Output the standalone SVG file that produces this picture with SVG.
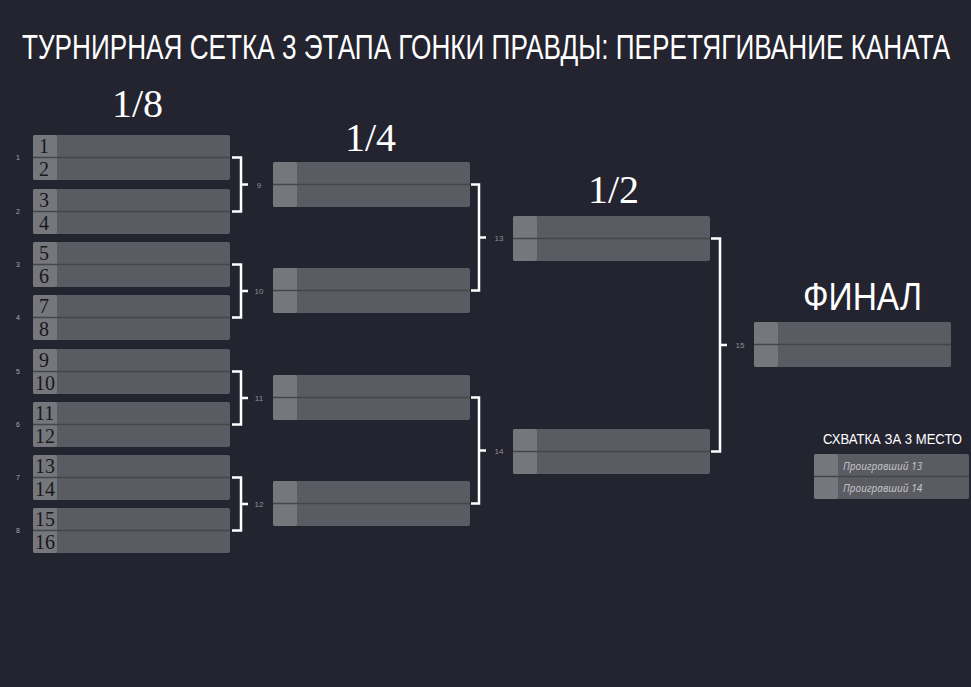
<svg xmlns="http://www.w3.org/2000/svg" width="971" height="687" viewBox="0 0 971 687">
<style>
.bg{fill:#23242f}
.box{fill:#5b5c63}
.cell{fill:#76777d}
.div{stroke:#45464d;stroke-width:1.5}
.seed{font-family:"Liberation Serif",serif;font-size:20px;fill:#17171b}
.mn{font-family:"Liberation Sans",sans-serif;font-size:7px;fill:#a9aab0;text-anchor:middle}
.bl{font-family:"Liberation Sans",sans-serif;font-size:8px;fill:#8e8f96;text-anchor:middle}
.rnd{font-family:"Liberation Serif",serif;font-size:40px;fill:#ffffff}
.title{font-family:"Liberation Sans",sans-serif;font-size:35px;fill:#ffffff}
.br{fill:none;stroke:#ffffff;stroke-width:2.5}
.lose{font-family:"Open Sans","Liberation Sans",sans-serif;font-style:italic;font-size:10px;fill:#c9c9ce}
</style>
<defs>
<g id="b197">
<rect class="box" x="0" y="0" width="197" height="45" rx="2"/>
<rect class="cell" x="0" y="0" width="24" height="45" rx="2"/>
<line class="div" x1="0" y1="22.5" x2="197" y2="22.5"/>
</g>
</defs>
<rect class="bg" x="0" y="0" width="971" height="687"/>
<text class="title" transform="translate(22,59) scale(0.7,1)" x="0" y="0" textLength="1326" lengthAdjust="spacingAndGlyphs">ТУРНИРНАЯ СЕТКА 3 ЭТАПА ГОНКИ ПРАВДЫ: ПЕРЕТЯГИВАНИЕ КАНАТА</text>
<text class="rnd" x="112" y="117">1/8</text>
<text class="rnd" x="345" y="151">1/4</text>
<text class="rnd" x="588" y="203">1/2</text>
<text x="803" y="310" font-family="Liberation Sans,sans-serif" font-size="38" fill="#ffffff" textLength="119" lengthAdjust="spacingAndGlyphs">ФИНАЛ</text>
<text x="823" y="444" font-family="Liberation Sans,sans-serif" font-size="14" fill="#ffffff" textLength="139" lengthAdjust="spacingAndGlyphs">СХВАТКА ЗА 3 МЕСТО</text>

<g id="r16-1"><use href="#b197" x="33" y="135"/><text class="seed" x="39" y="153">1</text><text class="seed" x="39" y="176">2</text><text class="mn" x="18" y="160">1</text></g>
<g id="r16-2"><use href="#b197" x="33" y="189"/><text class="seed" x="39" y="207">3</text><text class="seed" x="39" y="230">4</text><text class="mn" x="18" y="214">2</text></g>
<g id="r16-3"><use href="#b197" x="33" y="242"/><text class="seed" x="39" y="260">5</text><text class="seed" x="39" y="283">6</text><text class="mn" x="18" y="267">3</text></g>
<g id="r16-4"><use href="#b197" x="33" y="295"/><text class="seed" x="39" y="313">7</text><text class="seed" x="39" y="336">8</text><text class="mn" x="18" y="320">4</text></g>
<g id="r16-5"><use href="#b197" x="33" y="349"/><text class="seed" x="39" y="367">9</text><text class="seed" x="35" y="390">10</text><text class="mn" x="18" y="374">5</text></g>
<g id="r16-6"><use href="#b197" x="33" y="402"/><text class="seed" x="35" y="420">11</text><text class="seed" x="35" y="443">12</text><text class="mn" x="18" y="427">6</text></g>
<g id="r16-7"><use href="#b197" x="33" y="455"/><text class="seed" x="35" y="473">13</text><text class="seed" x="35" y="496">14</text><text class="mn" x="18" y="480">7</text></g>
<g id="r16-8"><use href="#b197" x="33" y="508"/><text class="seed" x="35" y="526">15</text><text class="seed" x="35" y="549">16</text><text class="mn" x="18" y="533">8</text></g>

<g id="qf-9"><use href="#b197" x="273" y="162"/></g>
<g id="qf-10"><use href="#b197" x="273" y="268"/></g>
<g id="qf-11"><use href="#b197" x="273" y="375"/></g>
<g id="qf-12"><use href="#b197" x="273" y="481"/></g>
<g id="sf-13"><use href="#b197" x="513" y="216"/></g>
<g id="sf-14"><use href="#b197" x="513" y="429"/></g>
<g id="final-15"><use href="#b197" x="754" y="322"/></g>
<g id="third">
<rect class="box" x="814" y="454" width="155" height="45" rx="2"/>
<rect class="cell" x="814" y="454" width="24" height="45" rx="2"/>
<line class="div" x1="814" y1="476.5" x2="969" y2="476.5"/>
<text class="lose" x="843" y="470">Проигравший 13</text>
<text class="lose" x="843" y="492">Проигравший 14</text>
</g>

<g id="connectors">
<path class="br" d="M232 157.5H241V211.5H232M241 184.5H248"/>
<path class="br" d="M232 264.5H241V317.5H232M241 291H248"/>
<path class="br" d="M232 371.5H241V424.5H232M241 398H248"/>
<path class="br" d="M232 477.5H241V530.5H232M241 504H248"/>
<path class="br" d="M471 184.5H479V290.5H471M479 237.5H486"/>
<path class="br" d="M471 397.5H479V503.5H471M479 450.5H486"/>
<path class="br" d="M711 238.5H720V451.5H711M720 345H727"/>
<text class="bl" x="259" y="187.5">9</text>
<text class="bl" x="259" y="294">10</text>
<text class="bl" x="259" y="401">11</text>
<text class="bl" x="259" y="507">12</text>
<text class="bl" x="499" y="240.5">13</text>
<text class="bl" x="499" y="453.5">14</text>
<text class="bl" x="740" y="348">15</text>
</g>
</svg>
